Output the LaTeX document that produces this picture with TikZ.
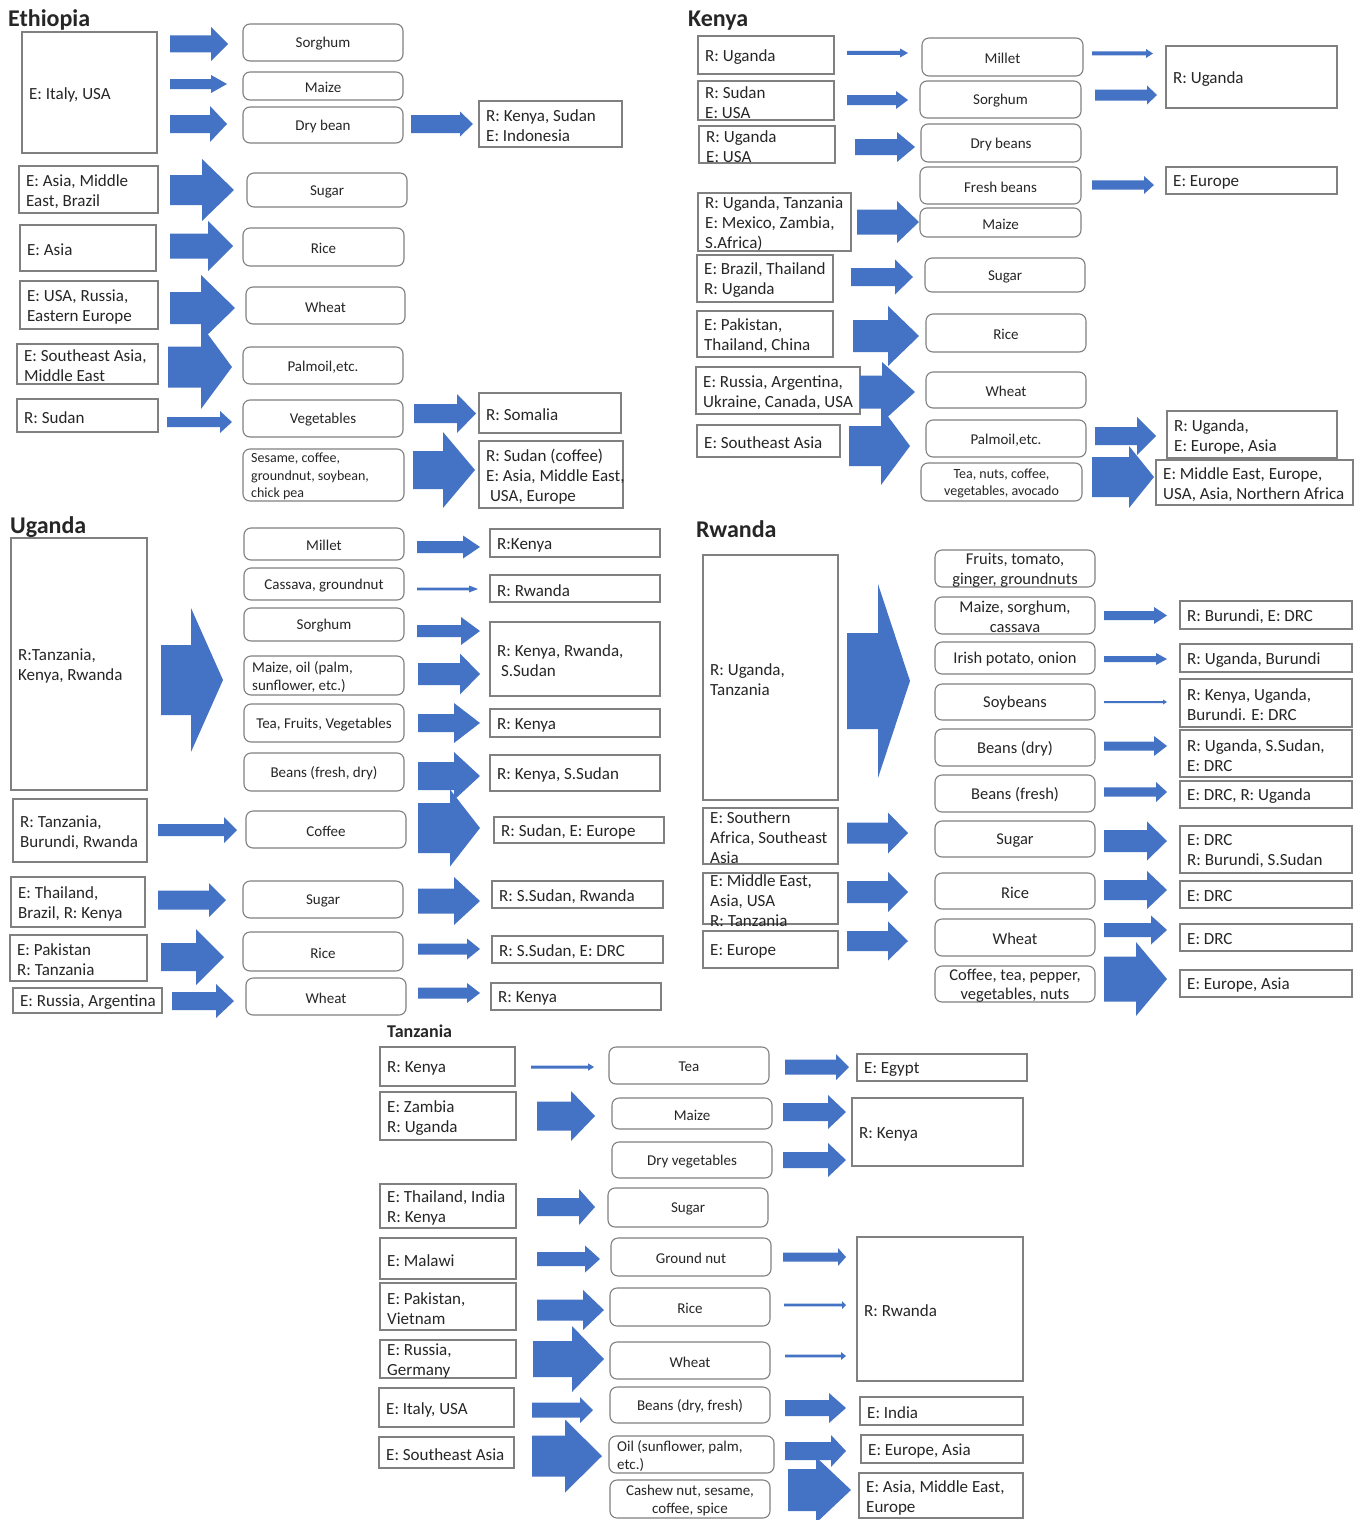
\documentclass[tikz,border=0pt]{standalone}
\usepackage{fontspec}
\setmainfont{Carlito}
\definecolor{blk}{HTML}{4472C4}
\definecolor{ink}{HTML}{262626}
\definecolor{edge}{HTML}{808080}
\tikzset{
  sqline/.style={draw=edge, line width=1.1pt},
  rdline/.style={draw=edge, line width=1.1pt, rounded corners=7pt},
  srctxt/.style={inner sep=0pt, align=left, text=ink, yshift=-2pt, font=\fontsize{17}{20}\selectfont},
  croptxt/.style={inner sep=0pt, align=center, text=ink, yshift=-1.5pt, font=\fontsize{15}{17.5}\selectfont},
  rwcrop/.style={font=\fontsize{16.5}{19.5}\selectfont},
  ttl/.style={inner sep=0pt, text=ink, font=\bfseries\fontsize{24}{28}\selectfont},
  arrfill/.style={fill=blk}
}
% square box with left-aligned text: [style]{name}{x1}{y1}{x2}{y2}{text}
\newcommand\srcbx[7][]{%
  \draw[sqline] (#3,#4) rectangle (#5,#6);
  \node[srctxt,anchor=west,#1] (#2) at ({#3+7},{(#4+#6)/2}) {#7};}
% rounded box with centred text
\newcommand\cropbx[7][]{%
  \draw[rdline] (#3,#4) rectangle (#5,#6);
  \node[croptxt,#1] (#2) at ({(#3+#5)/2},{(#4+#6)/2}) {#7};}
% rounded box with left-aligned text
\newcommand\cropbxl[7][]{%
  \draw[rdline] (#3,#4) rectangle (#5,#6);
  \node[croptxt,anchor=west,align=left,#1] (#2) at ({#3+8},{(#4+#6)/2}) {#7};}
% block arrow: {x tail}{y centre}{x head base}{x tip}{shaft half}{head half}
\newcommand\blockarr[6]{%
  \fill[arrfill] (#1,{#2-#5}) -- (#3,{#2-#5}) -- (#3,{#2-#6}) -- (#4,#2)
    -- (#3,{#2+#6}) -- (#3,{#2+#5}) -- (#1,{#2+#5}) -- cycle;}
\begin{document}
\begin{tikzpicture}[x=1pt,y=-1pt]
\useasboundingbox[fill=white] (0,0) rectangle (1364,1520);

% ---------------- Ethiopia ----------------
\node[ttl,anchor=base west] (hEth) at (8,27) {Ethiopia};
\srcbx{eIt}{22}{32}{157}{153}{E: Italy, USA}
\srcbx{eAs}{19}{166}{158}{213}{E: Asia, Middle\\East, Brazil}
\srcbx{eAsia}{20}{225}{156}{271}{E: Asia}
\srcbx{eUSA}{20}{281}{158}{329}{E: USA, Russia,\\Eastern Europe}
\srcbx{eSEA}{17}{344}{158}{384}{E: Southeast Asia,\\Middle East}
\srcbx{eSud}{17}{399}{158}{432}{R: Sudan}

\cropbx{eSor}{243}{24}{403}{61}{Sorghum}
\cropbx{eMai}{243}{72}{403}{100}{Maize}
\cropbx{eDry}{243}{107}{403}{143}{Dry bean}
\cropbx{eSug}{247}{173}{407}{207}{Sugar}
\cropbx{eRic}{243}{228}{404}{266}{Rice}
\cropbx{eWhe}{246}{287}{405}{324}{Wheat}
\cropbx{ePal}{243}{347}{403}{384}{Palmoil,etc.}
\cropbx{eVeg}{243}{400}{403}{437}{Vegetables}
\cropbxl[font=\fontsize{14}{17.5}\selectfont]{eSes}{243}{449}{404}{501}{Sesame, coffee,\\groundnut, soybean,\\chick pea}

\srcbx{eKS}{479}{101}{622}{147}{R: Kenya, Sudan\\E: Indonesia}
\srcbx{eSom}{479}{393}{621}{433}{R: Somalia}
\srcbx{eSC}{479}{441}{623}{508}{R: Sudan (coffee)\\E: Asia, Middle East,\\\ USA, Europe}

\blockarr{170}{44}{211}{228}{8.5}{17}
\blockarr{170}{84}{211}{227}{5}{9}
\blockarr{170}{124}{210}{227}{9}{18}
\blockarr{170}{190}{202}{234}{15}{31}
\blockarr{170}{246}{208}{233}{12.5}{25}
\blockarr{170}{308}{201}{235}{16}{33}
\blockarr{168}{367}{201}{232}{20.5}{42}
\blockarr{167}{422}{220}{232}{5}{11}
\blockarr{411}{124}{460}{473}{9}{12.5}
\blockarr{414}{413.5}{457}{476}{9.5}{19.5}
\blockarr{413}{470}{443}{475}{19}{38}

% ---------------- Kenya ----------------
\node[ttl,anchor=base west] (hKen) at (688,27) {Kenya};
\srcbx{kU1}{698}{36}{834}{74}{R: Uganda}
\srcbx{kSU}{698}{81}{834}{120}{R: Sudan\\E: USA}
\srcbx{kUU}{699}{126}{835}{163}{R: Uganda\\E: USA}
\srcbx{kUT}{698}{193}{851}{251}{R: Uganda, Tanzania\\E: Mexico, Zambia,\\S.Africa)}
\srcbx{kBT}{697}{255}{833}{302}{E: Brazil, Thailand\\R: Uganda}
\srcbx{kPT}{697}{311}{833}{357}{E: Pakistan,\\Thailand, China}
\srcbx{kRA}{696}{367}{860}{414}{E: Russia, Argentina,\\Ukraine, Canada, USA}
\srcbx{kSEA}{697}{425}{840}{457}{E: Southeast Asia}

\cropbx{kMil}{922}{38}{1083}{76}{Millet}
\cropbx{kSor}{920}{81}{1081}{118}{Sorghum}
\cropbx{kDry}{921}{124}{1081}{162}{Dry beans}
\cropbx{kFre}{920}{167}{1081}{204}{Fresh beans}
\cropbx{kMai}{920}{208}{1081}{237}{Maize}
\cropbx{kSug}{925}{258}{1085}{292}{Sugar}
\cropbx{kRic}{926}{314}{1086}{352}{Rice}
\cropbx{kWhe}{926}{372}{1086}{408}{Wheat}
\cropbx{kPal}{926}{420}{1086}{457}{Palmoil,etc.}
\cropbx[font=\fontsize{14}{17.5}\selectfont]{kTea}{921}{463}{1082}{501}{Tea, nuts, coffee,\\vegetables, avocado}

\srcbx{kRU}{1166}{46}{1337}{108}{R: Uganda}
\srcbx{kEu}{1166}{167}{1337}{194}{E: Europe}
\srcbx{kUEA}{1167}{411}{1337}{458}{R: Uganda,\\E: Europe, Asia}
\srcbx{kME}{1156}{460}{1353}{505}{E: Middle East, Europe,\\USA, Asia, Northern Africa}

\blockarr{847}{53}{900}{908}{2}{4.5}
\blockarr{847}{100}{896}{908}{5}{9}
\blockarr{855}{147}{897}{915}{8}{15}
\blockarr{857}{222}{897}{919}{12.5}{21}
\blockarr{851}{277}{895}{913}{9}{17.5}
\blockarr{853}{336}{888}{919}{16}{30}
\blockarr{860}{392}{882}{915}{16.5}{30}
\blockarr{849}{446}{881}{910}{20}{39}
\blockarr{1092}{53.5}{1146}{1153}{2}{4.5}
\blockarr{1095}{95}{1147}{1157}{5.5}{9.5}
\blockarr{1092}{185}{1144}{1154}{4.7}{9}
\blockarr{1095}{436}{1137}{1156}{9}{19}
\blockarr{1092}{477}{1129}{1154}{20}{31}

% ---------------- Uganda ----------------
\node[ttl,anchor=base west] (hUga) at (10,533) {Uganda};
\srcbx{uTKR}{11}{538}{147}{790}{R:Tanzania,\\Kenya, Rwanda}
\srcbx{uTBR}{13}{799}{147}{862}{R: Tanzania,\\Burundi, Rwanda}
\srcbx{uTBK}{11}{877}{145}{927}{E: Thailand,\\Brazil, R: Kenya}
\srcbx{uPT}{10}{935}{147}{981}{E: Pakistan\\R: Tanzania}
\srcbx{uRA}{13}{988}{162}{1013}{E: Russia, Argentina}

\cropbx{uMil}{244}{528}{404}{560}{Millet}
\cropbx{uCas}{244}{568}{404}{600}{Cassava, groundnut}
\cropbx{uSor}{244}{608}{404}{641}{Sorghum}
\cropbxl{uMai}{244}{656}{404}{695}{Maize, oil (palm,\\sunflower, etc.)}
\cropbx{uTea}{244}{704}{404}{742}{Tea, Fruits, Vegetables}
\cropbx{uBea}{244}{753}{404}{791}{Beans (fresh, dry)}
\cropbx{uCof}{246}{811}{406}{848}{Coffee}
\cropbx{uSug}{243}{881}{403}{918}{Sugar}
\cropbx{uRic}{243}{932}{403}{971}{Rice}
\cropbx{uWhe}{246}{978}{406}{1015}{Wheat}

\srcbx{uK1}{490}{529}{660}{557}{R:Kenya}
\srcbx{uRw}{490}{575}{660}{602}{R: Rwanda}
\srcbx{uKRS}{490}{622}{660}{696}{R: Kenya, Rwanda,\\\ S.Sudan}
\srcbx{uK2}{490}{709}{660}{737}{R: Kenya}
\srcbx{uKS}{490}{755}{660}{791}{R: Kenya, S.Sudan}
\srcbx{uSE}{494}{817}{664}{843}{R: Sudan, E: Europe}
\srcbx{uSR}{492}{881}{663}{908}{R: S.Sudan, Rwanda}
\srcbx{uSD}{492}{936}{663}{963}{R: S.Sudan, E: DRC}
\srcbx{uK3}{491}{983}{661}{1010}{R: Kenya}

\blockarr{161}{680}{191}{223}{35}{72}
\blockarr{417}{547}{463}{480}{6}{11.5}
\blockarr{417}{589}{469}{478}{1.3}{3.5}
\blockarr{417}{631}{461}{480}{6}{14}
\blockarr{418}{674}{460}{480}{11}{20.5}
\blockarr{418}{723}{454}{480}{9}{20}
\blockarr{418}{776}{454}{480}{14}{24}
\blockarr{418}{828}{450}{480}{25}{38.5}
\blockarr{158}{830}{224}{237}{6}{13}
\blockarr{158}{900}{209}{226}{9.5}{17}
\blockarr{418}{901}{454}{480}{12.5}{24}
\blockarr{161}{957}{196}{224}{14}{28}
\blockarr{418}{949}{467}{480}{5.5}{10.5}
\blockarr{172}{1001}{216}{234}{9}{17}
\blockarr{418}{993}{467}{480}{5.5}{10}

% ---------------- Rwanda ----------------
\node[ttl,anchor=base west] (hRwa) at (696,537) {Rwanda};
\srcbx{rUT}{703}{555}{838}{800}{R: Uganda,\\Tanzania}
\srcbx{rSA}{703}{808}{838}{864}{E: Southern\\Africa, Southeast\\Asia}
\srcbx{rME}{703}{873}{838}{924}{E: Middle East,\\Asia, USA\\R: Tanzania}
\srcbx{rEu}{703}{931}{838}{968}{E: Europe}

\cropbx[rwcrop]{rFru}{935}{550}{1095}{587}{Fruits, tomato,\\ginger, groundnuts}
\cropbx[rwcrop]{rMai}{935}{597}{1095}{634}{Maize, sorghum,\\cassava}
\cropbx[rwcrop]{rIri}{935}{642}{1095}{674}{Irish potato, onion}
\cropbx[rwcrop]{rSoy}{935}{684}{1095}{720}{Soybeans}
\cropbx[rwcrop]{rBd}{935}{729}{1095}{766}{Beans (dry)}
\cropbx[rwcrop]{rBf}{935}{775}{1095}{812}{Beans (fresh)}
\cropbx[rwcrop]{rSug}{935}{821}{1095}{857}{Sugar}
\cropbx[rwcrop]{rRic}{935}{873}{1095}{909}{Rice}
\cropbx[rwcrop]{rWhe}{935}{919}{1095}{956}{Wheat}
\cropbx[rwcrop]{rCof}{935}{966}{1095}{1002}{Coffee, tea, pepper,\\vegetables, nuts}

\srcbx{rBD}{1180}{601}{1352}{629}{R: Burundi, E: DRC}
\srcbx{rUB}{1180}{644}{1352}{672}{R: Uganda, Burundi}
\srcbx{rKUB}{1180}{679}{1352}{727}{R: Kenya, Uganda,\\Burundi. E: DRC}
\srcbx{rUS}{1180}{730}{1352}{777}{R: Uganda, S.Sudan,\\E: DRC}
\srcbx{rDU}{1180}{781}{1352}{808}{E: DRC, R: Uganda}
\srcbx{rDBS}{1180}{826}{1352}{873}{E: DRC\\R: Burundi, S.Sudan}
\srcbx{rD1}{1180}{881}{1352}{908}{E: DRC}
\srcbx{rD2}{1180}{924}{1352}{951}{E: DRC}
\srcbx{rEA}{1180}{970}{1352}{997}{E: Europe, Asia}

\blockarr{847}{681}{878}{910}{48}{97}
\blockarr{1104}{615.5}{1154}{1167}{4.5}{8.5}
\blockarr{1104}{659}{1156}{1167}{3}{6}
\blockarr{1104}{702}{1163}{1167}{1}{2.5}
\blockarr{1104}{746}{1154}{1167}{4.5}{10}
\blockarr{1104}{792}{1156}{1167}{4.7}{10}
\blockarr{1104}{841}{1147}{1167}{11}{19.5}
\blockarr{1104}{890}{1147}{1167}{10}{19}
\blockarr{1104}{930}{1151}{1167}{7}{14.5}
\blockarr{1104}{979}{1136}{1167}{22.5}{37}
\blockarr{847}{833}{888}{908}{10.5}{20.5}
\blockarr{847}{892}{888}{908}{11}{20}
\blockarr{847}{941}{888}{908}{10}{19.5}

% ---------------- Tanzania ----------------
\node[ttl,anchor=base west,font=\bfseries\fontsize{18}{21}\selectfont] (hTan) at (387,1037) {Tanzania};
\srcbx{tK}{380}{1047}{515}{1086}{R: Kenya}
\srcbx{tZU}{380}{1092}{516}{1140}{E: Zambia\\R: Uganda}
\srcbx{tTI}{380}{1184}{516}{1228}{E: Thailand, India\\R: Kenya}
\srcbx{tMa}{380}{1238}{516}{1279}{E: Malawi}
\srcbx{tPV}{380}{1283}{516}{1330}{E: Pakistan,\\Vietnam}
\srcbx{tRG}{380}{1340}{516}{1378}{E: Russia,\\Germany}
\srcbx{tIU}{379}{1388}{514}{1427}{E: Italy, USA}
\srcbx{tSEA}{379}{1437}{514}{1468}{E: Southeast Asia}

\cropbx{tTea}{609}{1047}{769}{1084}{Tea}
\cropbx{tMai}{612}{1098}{772}{1129}{Maize}
\cropbx{tDv}{612}{1142}{772}{1178}{Dry vegetables}
\cropbx{tSug}{608}{1188}{768}{1227}{Sugar}
\cropbx{tGn}{611}{1238}{771}{1276}{Ground nut}
\cropbx{tRic}{610}{1288}{770}{1326}{Rice}
\cropbx{tWhe}{610}{1342}{770}{1379}{Wheat}
\cropbx{tBea}{610}{1387}{770}{1423}{Beans (dry, fresh)}
\cropbxl{tOil}{609}{1436}{774}{1473}{Oil (sunflower, palm,\\etc.)}
\cropbx{tCas}{610}{1480}{770}{1518}{Cashew nut, sesame,\\coffee, spice}

\srcbx{tEg}{857}{1054}{1027}{1081}{E: Egypt}
\srcbx{tKe}{852}{1098}{1023}{1166}{R: Kenya}
\srcbx{tRw}{857}{1237}{1023}{1381}{R: Rwanda}
\srcbx{tIn}{860}{1397}{1023}{1425}{E: India}
\srcbx{tEA}{861}{1435}{1023}{1463}{E: Europe, Asia}
\srcbx{tAME}{859}{1473}{1023}{1518}{E: Asia, Middle East,\\Europe}

\blockarr{531}{1067}{588}{594}{1.5}{3.7}
\blockarr{537}{1116}{571}{595}{14.5}{25}
\blockarr{785}{1067}{836}{849}{7.5}{13}
\blockarr{783}{1112}{828}{846}{9}{17}
\blockarr{783}{1160}{828}{846}{8}{17}
\blockarr{537}{1207}{579}{595}{9}{18}
\blockarr{537}{1259}{585}{600}{7}{13.5}
\blockarr{537}{1310}{583}{604}{10.5}{20}
\blockarr{783}{1257}{838}{846}{4.5}{9}
\blockarr{784}{1305}{842}{846}{1.3}{4}
\blockarr{533}{1359}{572}{604}{18}{33}
\blockarr{785}{1356}{841}{846}{1.3}{4}
\blockarr{532}{1410}{580}{593}{7.5}{13}
\blockarr{532}{1456}{565}{602}{20.5}{36.5}
\blockarr{785}{1408}{829}{846}{8}{15}
\blockarr{785}{1451}{831}{846}{9}{16}
\blockarr{788}{1490}{816}{851}{21}{33}
\end{tikzpicture}
\end{document}
